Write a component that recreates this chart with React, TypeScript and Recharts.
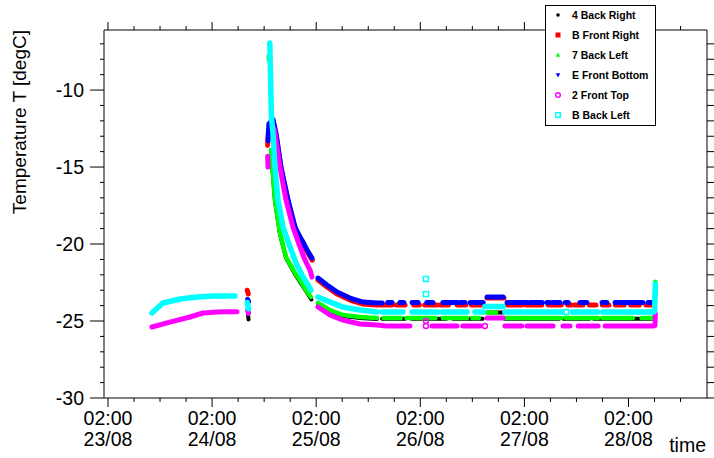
import React from 'react';
import { ComposedChart, Line, Scatter, XAxis, YAxis, Legend } from 'recharts';

type P = [number, number];
type Seg = [number, number, number];

const FONT = '"Liberation Sans", Arial, Helvetica, sans-serif';

// x values: hours since 23/08 00:00
const dayLabels = ['23/08', '24/08', '25/08', '26/08', '27/08', '28/08'];
const majorHours = [2, 26, 50, 74, 98, 122];
const timeText = '02:00';
const xDomain: [number, number] = [1.08, 140.1];
const yDomain: [number, number] = [-30, -6.1];
const yMajor = [-30, -25, -20, -15, -10];

const seriesNames = ['4 Back Right', 'B Front Right', '7 Back Left', 'E Front Bottom', '2 Front Top', 'B Back Left'];
const seriesColors = ['#000000', '#ff0000', '#00ff00', '#0000ff', '#ff00ff', '#00ffff'];
const seriesWidths = [4, 5, 4.5, 5, 5, 5.5];

// ---- 4 Back Right (black)
const blackRuns: P[][] = [
  [[34.3, -24.6], [34.4, -24.9]],
  [[39.6, -14.0], [40.5, -17.2], [41.65, -19.35], [43.04, -20.9], [45.11, -21.95], [46.5, -22.55], [47.65, -23.05], [48.11, -23.25], [48.9, -23.6]],
  [[50.42, -23.96], [53.18, -24.42], [56.18, -24.68], [60.1, -24.81], [64.02, -24.87]],
];
const blackFlat: Seg[] = [
  [65.2, 70.5, -24.85], [72.0, 80.0, -24.85], [81.5, 88.4, -24.85], [89.4, 93.1, -24.45],
  [93.5, 106.0, -24.85], [107.0, 113.0, -24.85], [114.0, 127.8, -24.85],
];

// ---- B Front Right (red)
const redRuns: P[][] = [
  [[34.1, -23.0], [34.35, -23.25]],
  [[38.8, -13.6], [39.0, -12.6], [40.1, -12.1], [40.8, -13.0], [41.95, -15.2], [43.6, -17.3], [45.2, -19.05], [46.35, -19.7], [47.05, -20.0], [47.75, -20.4], [48.65, -20.85], [49.1, -21.05]],
  [[50.42, -22.34], [52.49, -22.79], [54.8, -23.25], [57.79, -23.64], [60.79, -23.9], [64.02, -23.96], [67.5, -23.96]],
];
const redFlat: Seg[] = [
  [68.5, 70.5, -23.96], [72.5, 73.8, -23.96], [75.0, 77.8, -23.96], [78.5, 80.5, -23.96], [82.5, 84.5, -23.96],
  [85.8, 88.5, -23.96], [89.4, 93.3, -23.5], [94.0, 97.5, -23.96], [98.5, 102.0, -23.96], [103.5, 106.5, -23.96],
  [108.0, 108.8, -23.96], [109.5, 111.5, -23.96], [113.0, 114.5, -23.96], [116.0, 117.5, -23.96],
  [119.0, 121.0, -23.96], [122.5, 124.5, -23.96], [126.0, 127.8, -23.96],
];

// ---- 7 Back Left (green)
const greenRuns: P[][] = [
  [[34.3, -24.3], [34.4, -24.5]],
  [[39.05, -7.8], [39.15, -8.1]],
  [[39.58, -13.9], [40.5, -17.14], [41.65, -19.29], [43.04, -20.84], [45.11, -21.88], [46.5, -22.47], [47.65, -22.99], [48.11, -23.18], [48.8, -23.44]],
  [[50.42, -23.83], [53.18, -24.29], [56.18, -24.61], [60.1, -24.74], [64.02, -24.81]],
  [[127.6, -24.81], [128.0, -24.7], [128.2, -22.45]],
];
const greenFlat: Seg[] = [
  [65.5, 69.5, -24.81], [70.8, 77.5, -24.81], [79.2, 84.8, -24.81], [86.0, 87.5, -24.81], [89.2, 91.5, -24.45],
  [93.3, 106.5, -24.81], [107.5, 115.0, -24.81], [116.0, 123.0, -24.81], [125.0, 127.5, -24.81],
];

// ---- E Front Bottom (blue)
const blueRuns: P[][] = [
  [[34.2, -23.6], [34.4, -23.75]],
  [[38.9, -13.3], [39.1, -12.2], [40.04, -11.9], [40.73, -12.79], [41.88, -15.0], [43.5, -17.14], [45.11, -18.9], [46.27, -19.55], [46.96, -19.87], [47.65, -20.26], [48.57, -20.71], [49.03, -20.91]],
  [[50.42, -22.21], [52.49, -22.66], [54.8, -23.12], [57.79, -23.51], [60.79, -23.77], [64.02, -23.83], [65.2, -23.83]],
];
const blueFlat: Seg[] = [
  [66.5, 67.5, -23.8], [69.3, 70.2, -23.8], [72.1, 73.5, -23.8], [75.5, 76.9, -23.8], [79.2, 82.5, -23.8],
  [83.2, 84.3, -23.8], [85.5, 88.5, -23.8], [89.4, 93.1, -23.44], [94.0, 98.6, -23.8], [99.3, 102.1, -23.8],
  [103.2, 103.9, -23.8], [104.6, 106.2, -23.8], [107.4, 108.1, -23.8], [110.8, 112.4, -23.8],
  [115.9, 117.0, -23.8], [118.9, 125.3, -23.8], [126.5, 127.7, -23.8],
];

// ---- 2 Front Top (magenta)
const magentaRuns: P[][] = [
  [[12.14, -25.39], [16.29, -25.07], [20.9, -24.74], [23.9, -24.48], [27.13, -24.42], [29.44, -24.4], [31.74, -24.4]],
  [[34.2, -24.3], [34.4, -24.5]],
  [[38.8, -14.3], [38.9, -15.0]],
  [[40.3, -12.5], [40.5, -12.79], [41.65, -15.0], [43.04, -17.14], [44.65, -18.9], [46.27, -20.19], [47.42, -21.04], [48.57, -21.69], [49.03, -22.14]],
  [[50.42, -24.09], [53.18, -24.61], [56.18, -24.94], [60.1, -25.19], [64.02, -25.26], [66.0, -25.32]],
  [[127.65, -25.32], [128.1, -25.3], [128.2, -24.5]],
];
const magentaFlat: Seg[] = [
  [66.5, 69.0, -25.32], [69.5, 71.6, -25.32], [76.7, 82.46, -25.32], [83.8, 87.8, -25.32], [89.4, 93.1, -24.8],
  [93.5, 97.4, -25.32], [98.6, 104.6, -25.32], [106.9, 108.5, -25.32], [110.4, 115.0, -25.32], [116.6, 127.6, -25.32],
];
const magentaDots = [{ h: 75.3, t: -25.0 }, { h: 75.3, t: -25.32 }, { h: 88.9, t: -25.32 }];

// ---- B Back Left (cyan)
const cyanRuns: P[][] = [
  [[12.14, -24.48], [14.68, -23.83], [18.6, -23.57], [22.52, -23.44], [26.21, -23.38], [30.13, -23.38], [31.28, -23.38]],
  [[34.1, -23.8], [34.4, -24.2]],
  [[39.3, -6.95], [39.5, -9.5], [39.7, -11.8], [40.04, -12.79], [40.5, -15.0], [41.19, -17.14], [42.35, -18.9], [43.96, -20.19], [45.34, -21.23], [46.96, -22.14], [48.11, -22.66], [48.8, -22.99]],
  [[50.42, -23.44], [53.18, -23.77], [56.18, -24.1], [60.1, -24.29], [64.02, -24.42]],
  [[127.4, -24.42], [128.0, -24.4], [128.1, -23.5], [128.2, -22.6]],
];
const cyanFlat: Seg[] = [
  [65.17, 70.0, -24.42], [72.1, 78.1, -24.42], [79.0, 84.8, -24.42], [86.6, 88.5, -24.42], [88.9, 93.1, -24.05],
  [93.5, 97.4, -24.42], [98.1, 106.7, -24.42], [109.0, 114.9, -24.42], [116.1, 127.3, -24.42],
];
const cyanDots = [{ h: 75.3, t: -22.27 }, { h: 75.3, t: -23.25 }, { h: 107.6, t: -24.42 }];

type Row = { h: number; t: number | null };
function build(runs: P[][], flat: Seg[]): Row[] {
  const all: P[][] = [...runs, ...flat.map(([s, e, t]) => [[s, t], [e, t]] as P[])];
  all.sort((a, b) => a[0][0] - b[0][0]);
  const out: Row[] = [];
  all.forEach((run, i) => {
    if (i > 0) out.push({ h: run[0][0] - 0.001, t: null });
    run.forEach(([h, t]) => out.push({ h, t }));
  });
  return out;
}

const seriesData: Row[][] = [
  build(blackRuns, blackFlat),
  build(redRuns, redFlat),
  build(greenRuns, greenFlat),
  build(blueRuns, blueFlat),
  build(magentaRuns, magentaFlat),
  build(cyanRuns, cyanFlat),
];

const xTicks: number[] = [];
for (let h = 2; h <= 134; h += 6) xTicks.push(h);
const yTicks: number[] = [];
for (let v = -30; v <= -7; v += 1) yTicks.push(v);

const TICK_FS = 19.5;

const BottomTick = (props: any) => {
  const { x, y, payload } = props;
  const idx = majorHours.indexOf(payload.value);
  const major = idx >= 0;
  return (
    <g>
      <line x1={x} x2={x} y1={y} y2={y + (major ? 9 : 4)} stroke="#000" strokeWidth={1} />
      {major && (
        <text x={x} y={y + 27} textAnchor="middle" fontSize={TICK_FS} fontFamily={FONT} fill="#000">{timeText}</text>
      )}
      {major && (
        <text x={x} y={y + 48} textAnchor="middle" fontSize={TICK_FS} fontFamily={FONT} fill="#000">{dayLabels[idx]}</text>
      )}
    </g>
  );
};

const TopTick = (props: any) => {
  const { x, y, payload } = props;
  const major = majorHours.indexOf(payload.value) >= 0;
  return <line x1={x} x2={x} y1={y} y2={y - (major ? 8 : 4)} stroke="#000" strokeWidth={1} />;
};

const LeftTick = (props: any) => {
  const { x, y, payload } = props;
  const major = yMajor.indexOf(payload.value) >= 0;
  return (
    <g>
      <line x1={x - (major ? 14 : 4)} x2={x} y1={y} y2={y} stroke="#000" strokeWidth={1} />
      {major && (
        <text x={x - 20} y={y + 7} textAnchor="end" fontSize={TICK_FS} fontFamily={FONT} fill="#000">{payload.value}</text>
      )}
    </g>
  );
};

const RightTick = (props: any) => {
  const { x, y, payload } = props;
  const major = yMajor.indexOf(payload.value) >= 0;
  return <line x1={x} x2={x + (major ? 14 : 8)} y1={y} y2={y} stroke="#000" strokeWidth={1} />;
};

const YLabel = (props: any) => {
  const vb = props.viewBox || { x: 0, y: 30 };
  const x = 26;
  const y = vb.y;
  return (
    <text x={x} y={y} transform={`rotate(-90, ${x}, ${y})`} textAnchor="end" fontSize={19} fontFamily={FONT} fill="#000">
      Temperature T [degC]
    </text>
  );
};

const XLabel = (props: any) => {
  const vb = props.viewBox || { x: 104, y: 398, width: 603 };
  return (
    <text x={vb.x + vb.width - 1} y={vb.y + 54} textAnchor="end" fontSize={TICK_FS} fontFamily={FONT} fill="#000">time</text>
  );
};

const LegendMarker = ({ i, cx, cy }: { i: number; cx: number; cy: number }) => {
  const c = seriesColors[i];
  switch (i) {
    case 0:
      return <circle cx={cx} cy={cy} r={1.8} fill={c} />;
    case 1:
      return <rect x={cx - 2.5} y={cy - 2.5} width={5} height={5} fill={c} />;
    case 2:
      return <polygon points={`${cx},${cy - 2.5} ${cx + 2.3},${cy + 1.8} ${cx - 2.3},${cy + 1.8}`} fill={c} />;
    case 3:
      return <polygon points={`${cx},${cy + 2.5} ${cx + 2.3},${cy - 1.8} ${cx - 2.3},${cy - 1.8}`} fill={c} />;
    case 4:
      return <circle cx={cx} cy={cy} r={2.3} fill="none" stroke={c} strokeWidth={1.5} />;
    default:
      return <rect x={cx - 2.3} y={cy - 2.3} width={4.6} height={4.6} fill="none" stroke={c} strokeWidth={1.5} />;
  }
};

const LegendBox = () => (
  <svg width={111} height={121} style={{ display: 'block' }}>
    <rect x={0.5} y={0.5} width={110} height={120} fill="#fff" stroke="#000" strokeWidth={1} />
    {seriesNames.map((n, i) => (
      <g key={n}>
        <LegendMarker i={i} cx={13} cy={10 + i * 20} />
        <text x={27} y={10 + i * 20 + 4} fontSize={10.5} fontWeight="bold" fontFamily={FONT} fill="#000">{n}</text>
      </g>
    ))}
  </svg>
);

const OpenSquare = (props: any) => (
  <rect x={props.cx - 2.5} y={props.cy - 2.5} width={5} height={5} fill="none" stroke="#00ffff" strokeWidth={1.5} />
);
const OpenCircle = (props: any) => (
  <circle cx={props.cx} cy={props.cy} r={2.5} fill="none" stroke="#ff00ff" strokeWidth={1.5} />
);

export default function App() {
  return (
    <div style={{ position: 'absolute', left: 0, top: 0, width: 714, height: 458, overflow: 'hidden', background: '#fff' }}>
      <ComposedChart width={714} height={458} margin={{ top: 20, right: 0, bottom: 0, left: 0 }}>
        <XAxis xAxisId="b" dataKey="h" type="number" domain={xDomain} allowDataOverflow ticks={xTicks}
          tick={<BottomTick />} tickLine={false} tickSize={0} tickMargin={0} height={60} interval={0}
          axisLine={{ stroke: '#000', strokeWidth: 1 }} label={<XLabel />} />
        <XAxis xAxisId="t" orientation="top" dataKey="h" type="number" domain={xDomain} allowDataOverflow ticks={xTicks}
          tick={<TopTick />} tickLine={false} tickSize={0} tickMargin={0} height={10} interval={0}
          axisLine={{ stroke: '#000', strokeWidth: 1 }} />
        <YAxis yAxisId="l" dataKey="t" type="number" domain={yDomain} allowDataOverflow ticks={yTicks}
          tick={<LeftTick />} tickLine={false} tickSize={0} tickMargin={0} width={104} interval={0}
          axisLine={{ stroke: '#000', strokeWidth: 1 }} label={<YLabel />} />
        <YAxis yAxisId="r" orientation="right" dataKey="t" type="number" domain={yDomain} allowDataOverflow ticks={yTicks}
          tick={<RightTick />} tickLine={false} tickSize={0} tickMargin={0} width={7} interval={0}
          axisLine={{ stroke: '#000', strokeWidth: 1 }} />
        {seriesData.map((d, i) => (
          <Line key={seriesNames[i]} name={seriesNames[i]} data={d} dataKey="t" xAxisId="b" yAxisId="l"
            type="linear" stroke={seriesColors[i]} strokeWidth={seriesWidths[i]} strokeLinecap="round"
            strokeLinejoin="round" dot={false} activeDot={false} connectNulls={false} isAnimationActive={false} />
        ))}
        <Scatter name="2 Front Top dots" data={magentaDots} xAxisId="b" yAxisId="l" shape={<OpenCircle />} isAnimationActive={false} legendType="none" />
        <Scatter name="B Back Left dots" data={cyanDots} xAxisId="b" yAxisId="l" shape={<OpenSquare />} isAnimationActive={false} legendType="none" />
        <Legend content={<LegendBox />} layout="vertical" align="center" verticalAlign="middle"
          wrapperStyle={{ left: 545, top: 5, width: 111, height: 121 }} />
      </ComposedChart>
    </div>
  );
}
